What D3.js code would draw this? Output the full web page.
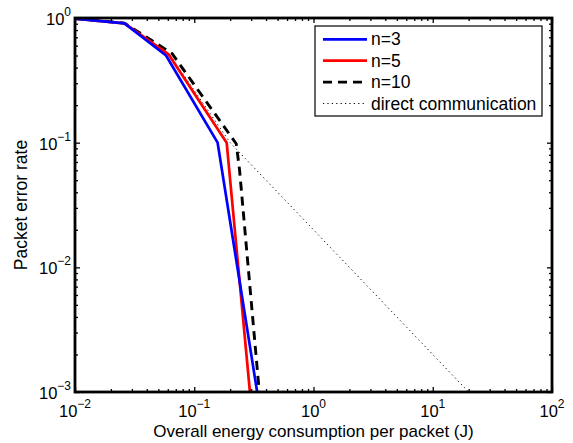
<!DOCTYPE html>
<html>
<head>
<meta charset="utf-8">
<script src="https://cdn.jsdelivr.net/npm/d3@7"></script>
<style>
body { margin: 0; background: #fff; }
text { font-family: "Liberation Sans", Arial, Helvetica, sans-serif; }
</style>
</head>
<body>
<svg id="chart" width="573" height="443"></svg>
<script>
// curves: energy (J) vs packet error rate
var energyN3 = [0.01, 0.026, 0.058, 0.157, 0.337];
var perN3 = [0.99, 0.905, 0.5, 0.1, 0.001];

var energyN5 = [0.01, 0.026, 0.061, 0.187, 0.293];
var perN5 = [0.99, 0.905, 0.51, 0.1, 0.001];

var energyN10 = [0.01, 0.026, 0.065, 0.225, 0.24, 0.351];
var perN10 = [0.99, 0.91, 0.52, 0.098, 0.06, 0.001];

var energyDirect = [0.01, 0.026, 0.063, 0.2, 20];
var perDirect = [0.99, 0.91, 0.5, 0.1, 0.001];

var seriesNames = ["n=3", "n=5", "n=10", "direct communication"];
var xTickExps = [-2, -1, 0, 1, 2];
var yTickExps = [-3, -2, -1, 0];

var plotL = 75, plotR = 552, plotT = 18, plotB = 392;

var svg = d3.select("#chart");

var x = d3.scaleLog().domain([0.01, 100]).range([plotL, plotR]);
var y = d3.scaleLog().domain([0.001, 1]).range([plotB, plotT]);

function minorTicks(lo, hi){
	var out = [];
	for (var e = lo; e < hi; e++){
		for (var k = 2; k <= 9; k++) out.push(k * Math.pow(10, e));
	}
	return out;
}

// clip for data lines
svg.append("defs").append("clipPath").attr("id", "plotclip")
	.append("rect").attr("x", plotL).attr("y", plotT)
	.attr("width", plotR - plotL).attr("height", plotB - plotT);

var styles = [
	{ color: "#0000ff", width: 2.7, dash: null },
	{ color: "#ff0000", width: 2.7, dash: null },
	{ color: "#000000", width: 2.9, dash: "9,6" },
	{ color: "#000000", width: 1, dash: "1.2,3.2" }
];

var series = [
	d3.zip(energyN3, perN3),
	d3.zip(energyN5, perN5),
	d3.zip(energyN10, perN10),
	d3.zip(energyDirect, perDirect)
];

var line = d3.line().x(function(d){ return x(d[0]); }).y(function(d){ return y(d[1]); });

var plot = svg.append("g").attr("clip-path", "url(#plotclip)");
// direct first so the others sit on top
[3, 2, 1, 0].forEach(function(i){
	plot.append("path")
		.attr("d", line(series[i]))
		.attr("fill", "none")
		.attr("stroke", styles[i].color)
		.attr("stroke-width", styles[i].width)
		.attr("stroke-dasharray", styles[i].dash)
		.attr("stroke-linejoin", "round");
});

// ticks on all four sides, pointing in
var xMinor = minorTicks(-2, 2), yMinor = minorTicks(-3, 0);
var xMajor = xTickExps.map(function(e){ return Math.pow(10, e); });
var yMajor = yTickExps.map(function(e){ return Math.pow(10, e); });

function tickAxis(axisFn, scale, values, size, tx, ty){
	var g = svg.append("g").attr("transform", "translate(" + tx + "," + ty + ")")
		.call(axisFn(scale).tickValues(values).tickSize(size).tickFormat(""));
	g.select(".domain").remove();
	g.selectAll("line").attr("stroke", "#000").attr("stroke-width", 1.3);
	return g;
}
tickAxis(d3.axisBottom, x, xMinor, -3, 0, plotB);
tickAxis(d3.axisTop, x, xMinor, -3, 0, plotT);
tickAxis(d3.axisLeft, y, yMinor, -3, plotL, 0);
tickAxis(d3.axisRight, y, yMinor, -3, plotR, 0);
tickAxis(d3.axisBottom, x, xMajor, -5, 0, plotB);
tickAxis(d3.axisTop, x, xMajor, -5, 0, plotT);
tickAxis(d3.axisLeft, y, yMajor, -5, plotL, 0);
tickAxis(d3.axisRight, y, yMajor, -5, plotR, 0);

// frame
svg.append("rect")
	.attr("x", plotL).attr("y", plotT)
	.attr("width", plotR - plotL).attr("height", plotB - plotT)
	.attr("fill", "none").attr("stroke", "#000").attr("stroke-width", 2.8);

// tick labels as 10 with superscript exponent
function expText(sel, e){
	sel.append("tspan").text("10");
	sel.append("tspan").attr("dy", -9).attr("font-size", 12)
		.text(e < 0 ? "\u2212" + (-e) : String(e));
}

xTickExps.forEach(function(e){
	var t = svg.append("text")
		.attr("x", x(Math.pow(10, e))).attr("y", plotB + 25)
		.attr("text-anchor", "middle").attr("font-size", 16.5);
	expText(t, e);
});

yTickExps.forEach(function(e){
	var t = svg.append("text")
		.attr("x", plotL - 4).attr("y", y(Math.pow(10, e)) + 7)
		.attr("text-anchor", "end").attr("font-size", 16.5);
	expText(t, e);
});

// axis titles
svg.append("text")
	.attr("x", (plotL + plotR) / 2).attr("y", plotB + 45)
	.attr("text-anchor", "middle").attr("font-size", 17)
	.text("Overall energy consumption per packet (J)");

svg.append("text")
	.attr("transform", "translate(27," + ((plotT + plotB) / 2) + ") rotate(-90)")
	.attr("text-anchor", "middle").attr("font-size", 17.5)
	.text("Packet error rate");

// legend
var lg = svg.append("g");
lg.append("rect")
	.attr("x", 315).attr("y", 26).attr("width", 227).attr("height", 90)
	.attr("fill", "#fff").attr("stroke", "#000").attr("stroke-width", 1.2);

seriesNames.forEach(function(name, i){
	var ly = 39.3 + i * 21.4;
	lg.append("line")
		.attr("x1", 323).attr("x2", 367).attr("y1", ly).attr("y2", ly)
		.attr("stroke", styles[i].color)
		.attr("stroke-width", styles[i].width)
		.attr("stroke-dasharray", styles[i].dash);
	lg.append("text")
		.attr("x", 371).attr("y", ly + 6)
		.attr("font-size", 17.5)
		.text(name);
});
</script>
</body>
</html>
